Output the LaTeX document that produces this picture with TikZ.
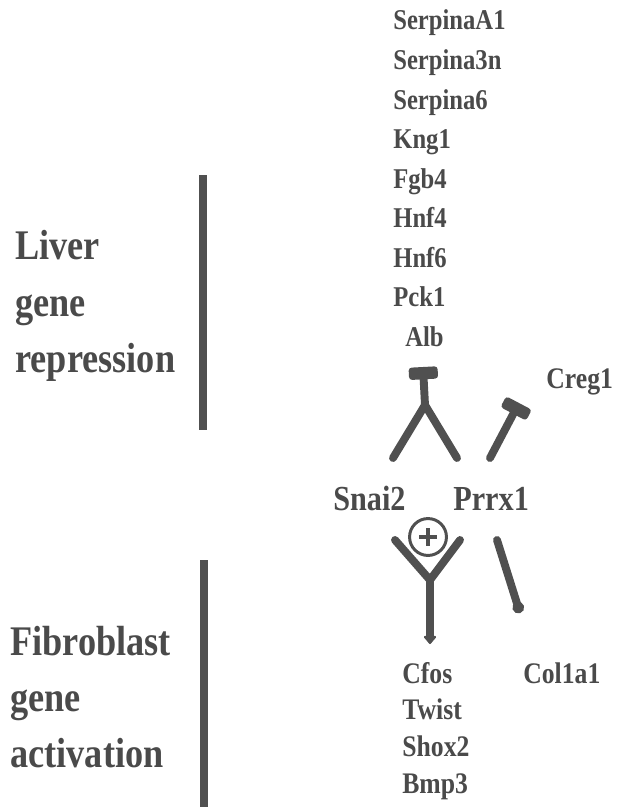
\documentclass[tikz,border=0pt]{standalone}
\usepackage{fontspec}
\setmainfont{Liberation Serif}[FakeStretch=0.86]
\usepackage{xcolor}
\usepackage{tikz}
\usetikzlibrary{arrows.meta, positioning}

\definecolor{ink}{HTML}{4A4A4A}
\definecolor{stroke}{HTML}{505050}

\begin{document}
\begin{tikzpicture}[
x=0.02cm, y=-0.02cm,
node distance=6.6pt,
gene/.style={
inner sep=0pt,
text=ink,
font=\fontsize{16.3}{19}\selectfont\bfseries,
text width=3cm,
align=left,
text height=11.5pt,
text depth=4pt
},
target/.style={
gene,
font=\fontsize{17}{20}\selectfont\bfseries,
text height=12pt,
text depth=4.5pt
},
factor/.style={
inner sep=0pt,
text=ink,
font=\fontsize{20}{24}\selectfont\bfseries
},
group/.style={
inner sep=0pt,
text=ink,
align=left,
font=\fontsize{24}{32}\selectfont\bfseries
},
sidebar/.style={
draw=stroke,
line width=5pt
},
link/.style={
draw=stroke,
line width=4.5pt,
line cap=round,
line join=round
},
inhibit/.style={
link,
-{Rectangle[width=16.5pt, length=7pt, round]}
},
activate/.style={
link,
-{Triangle[width=8pt, length=5pt, round]}
}
]

\useasboundingbox (0,0) rectangle (616,811);

% liver genes
\node[gene, anchor=base west] (g1) at (393,30) {SerpinaA1};
\node[gene, below=of g1] (g2) {Serpina3n};
\node[gene, below=of g2] (g3) {Serpina6};
\node[gene, below=of g3] (g4) {Kng1};
\node[gene, below=of g4] (g5) {Fgb4};
\node[gene, below=of g5] (g6) {Hnf4};
\node[gene, below=of g6] (g7) {Hnf6};
\node[gene, below=of g7] (g8) {Pck1};
\node[gene, below=of g8, xshift=0.24cm] (g9) {Alb};

% transcription factors
\node[factor, anchor=base west] (snai) at (333,510) {Snai2};
\node[factor, anchor=base west] (prrx) at (453,510) {Prrx1};
\node[factor, anchor=base west, font=\fontsize{17}{20}\selectfont\bfseries]
(creg) at (546,388) {Creg1};

% fibroblast genes
\node[target, anchor=base west] (t1) at (402,683) {Cfos};
\node[target, below=4pt of t1] (t2) {Twist};
\node[target, below=4pt of t2] (t3) {Shox2};
\node[target, below=4pt of t3] (t4) {Bmp3};
\node[target, anchor=base west, text width=] (col) at (523,683) {Col1a1};

% side labels
\node[group, anchor=west] (liver) at (15,306)
{Liver\\gene\\repression};
\node[group, anchor=west] (fibro) at (10,697)
{Fibroblast\\gene\\activation};

\draw[sidebar] (203,175) -- (203,430);
\draw[sidebar] (204,560) -- (204,807);

% repression of liver genes
\coordinate (rjoin) at (425,405);
\coordinate (rtop) at (423,367);
\coordinate (sup) at (393,458);
\coordinate (pup) at (457,458);
\draw[link] (sup) -- (rjoin) -- (pup);
\draw[inhibit] (rjoin) -- (rtop);

% repression of Creg1
\coordinate (pcreg) at (490,458);
\coordinate (ccreg) at (519,403);
\draw[inhibit] (pcreg) -- (ccreg);

% activation of fibroblast genes
\coordinate (sdown) at (395,540);
\coordinate (pdown) at (460,540);
\coordinate (ajoin) at (430,580);
\coordinate (aend) at (430,644);
\draw[link] (sdown) -- (ajoin) -- (pdown);
\draw[activate] (ajoin) -- (aend);
\node[circle, draw=stroke, line width=1.7pt, minimum size=21pt,
inner sep=0pt] (plus) at (428,537) {};
\draw[draw=stroke, line width=1.8pt]
([xshift=-5pt]plus.center) -- ([xshift=5pt]plus.center)
([yshift=-5pt]plus.center) -- ([yshift=5pt]plus.center);

% Prrx1 to Col1a1
\coordinate (pcol) at (497,540);
\coordinate (ccol) at (520,613);
\draw[link, -{Circle[length=6.5pt]}] (pcol) -- (ccol);

\end{tikzpicture}
\end{document}
